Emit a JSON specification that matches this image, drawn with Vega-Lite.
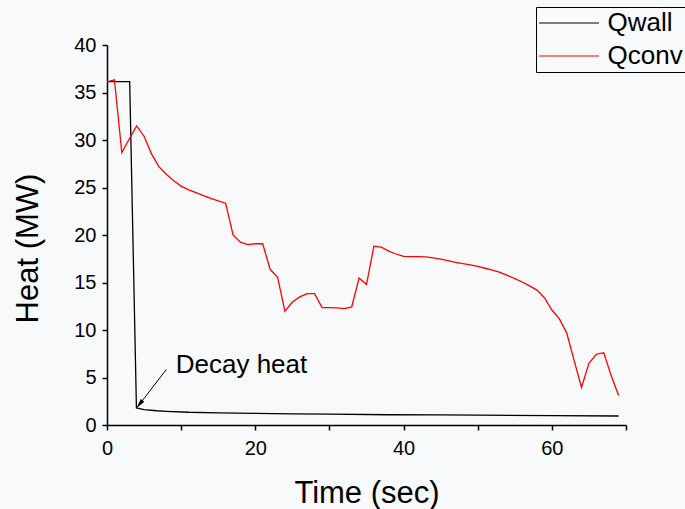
{
  "$schema": "https://vega.github.io/schema/vega-lite/v6.json",
  "width": 519,
  "height": 380,
  "autosize": {"type": "none"},
  "padding": {"left": 107, "top": 45, "right": 59, "bottom": 84},
  "background": "#f8f9fb",
  "config": {
    "view": {"stroke": null},
    "font": "Liberation Sans",
    "axis": {
      "grid": false,
      "domainColor": "#000000",
      "domainWidth": 1.5,
      "tickColor": "#000000",
      "tickWidth": 1.5,
      "tickSize": 5,
      "labelFont": "Liberation Sans",
      "labelFontSize": 20,
      "labelColor": "#000000",
      "labelOverlap": false,
      "labelFlush": false,
      "titleFont": "Liberation Sans",
      "titleFontSize": 31,
      "titleFontWeight": "normal",
      "titleColor": "#000000"
    },
    "legend": {
      "labelFont": "Liberation Sans",
      "labelFontSize": 26,
      "labelColor": "#000000"
    }
  },
  "datasets": {
    "lines": [
      {"t": 0, "v": 36.15, "series": "Qwall"},
      {"t": 3.06, "v": 36.15, "series": "Qwall"},
      {"t": 3.97, "v": 1.8, "series": "Qwall"},
      {"t": 5, "v": 1.62, "series": "Qwall"},
      {"t": 6.7, "v": 1.5, "series": "Qwall"},
      {"t": 8, "v": 1.44, "series": "Qwall"},
      {"t": 11, "v": 1.34, "series": "Qwall"},
      {"t": 15, "v": 1.28, "series": "Qwall"},
      {"t": 20, "v": 1.23, "series": "Qwall"},
      {"t": 25, "v": 1.18, "series": "Qwall"},
      {"t": 30, "v": 1.14, "series": "Qwall"},
      {"t": 38, "v": 1.08, "series": "Qwall"},
      {"t": 45, "v": 1.06, "series": "Qwall"},
      {"t": 50, "v": 1.04, "series": "Qwall"},
      {"t": 60, "v": 0.99, "series": "Qwall"},
      {"t": 69, "v": 0.95, "series": "Qwall"},
      {"t": 0, "v": 36.13, "series": "Qconv"},
      {"t": 1, "v": 36.34, "series": "Qconv"},
      {"t": 2, "v": 28.68, "series": "Qconv"},
      {"t": 3, "v": 30.1, "series": "Qconv"},
      {"t": 4, "v": 31.48, "series": "Qconv"},
      {"t": 5, "v": 30.4, "series": "Qconv"},
      {"t": 6, "v": 28.54, "series": "Qconv"},
      {"t": 7, "v": 27.2, "series": "Qconv"},
      {"t": 8, "v": 26.4, "series": "Qconv"},
      {"t": 9, "v": 25.7, "series": "Qconv"},
      {"t": 10, "v": 25.15, "series": "Qconv"},
      {"t": 11, "v": 24.75, "series": "Qconv"},
      {"t": 12, "v": 24.45, "series": "Qconv"},
      {"t": 13, "v": 24.15, "series": "Qconv"},
      {"t": 14, "v": 23.85, "series": "Qconv"},
      {"t": 15, "v": 23.6, "series": "Qconv"},
      {"t": 16, "v": 23.35, "series": "Qconv"},
      {"t": 17, "v": 20.0, "series": "Qconv"},
      {"t": 18, "v": 19.25, "series": "Qconv"},
      {"t": 19, "v": 18.98, "series": "Qconv"},
      {"t": 20, "v": 19.08, "series": "Qconv"},
      {"t": 21, "v": 19.08, "series": "Qconv"},
      {"t": 22, "v": 16.39, "series": "Qconv"},
      {"t": 23, "v": 15.58, "series": "Qconv"},
      {"t": 24, "v": 11.97, "series": "Qconv"},
      {"t": 25, "v": 12.95, "series": "Qconv"},
      {"t": 26, "v": 13.48, "series": "Qconv"},
      {"t": 27, "v": 13.83, "series": "Qconv"},
      {"t": 28, "v": 13.83, "series": "Qconv"},
      {"t": 29, "v": 12.36, "series": "Qconv"},
      {"t": 30, "v": 12.36, "series": "Qconv"},
      {"t": 31, "v": 12.32, "series": "Qconv"},
      {"t": 32, "v": 12.26, "series": "Qconv"},
      {"t": 33, "v": 12.43, "series": "Qconv"},
      {"t": 34, "v": 15.47, "series": "Qconv"},
      {"t": 35, "v": 14.78, "series": "Qconv"},
      {"t": 36, "v": 18.83, "series": "Qconv"},
      {"t": 37, "v": 18.73, "series": "Qconv"},
      {"t": 38, "v": 18.31, "series": "Qconv"},
      {"t": 39, "v": 18.0, "series": "Qconv"},
      {"t": 40, "v": 17.74, "series": "Qconv"},
      {"t": 41, "v": 17.72, "series": "Qconv"},
      {"t": 42, "v": 17.72, "series": "Qconv"},
      {"t": 43, "v": 17.7, "series": "Qconv"},
      {"t": 44, "v": 17.6, "series": "Qconv"},
      {"t": 45, "v": 17.45, "series": "Qconv"},
      {"t": 46, "v": 17.3, "series": "Qconv"},
      {"t": 47, "v": 17.12, "series": "Qconv"},
      {"t": 48, "v": 16.98, "series": "Qconv"},
      {"t": 49, "v": 16.85, "series": "Qconv"},
      {"t": 50, "v": 16.7, "series": "Qconv"},
      {"t": 51, "v": 16.5, "series": "Qconv"},
      {"t": 52, "v": 16.3, "series": "Qconv"},
      {"t": 53, "v": 16.06, "series": "Qconv"},
      {"t": 54, "v": 15.75, "series": "Qconv"},
      {"t": 55, "v": 15.4, "series": "Qconv"},
      {"t": 56, "v": 15.05, "series": "Qconv"},
      {"t": 57, "v": 14.65, "series": "Qconv"},
      {"t": 58, "v": 14.2, "series": "Qconv"},
      {"t": 59, "v": 13.4, "series": "Qconv"},
      {"t": 60, "v": 12.1, "series": "Qconv"},
      {"t": 61, "v": 11.2, "series": "Qconv"},
      {"t": 62, "v": 9.7, "series": "Qconv"},
      {"t": 63, "v": 6.8, "series": "Qconv"},
      {"t": 64, "v": 3.96, "series": "Qconv"},
      {"t": 65, "v": 6.5, "series": "Qconv"},
      {"t": 66, "v": 7.45, "series": "Qconv"},
      {"t": 67, "v": 7.6, "series": "Qconv"},
      {"t": 68, "v": 5.2, "series": "Qconv"},
      {"t": 69, "v": 3.1, "series": "Qconv"}
    ],
    "arrow": [
      {"t1": 8.01, "v1": 5.85, "t2": 4.3, "v2": 2.1}
    ],
    "head": [
      {"t": 4.38, "v": 2.17}
    ],
    "label": [
      {"t": 9.27, "v": 5.43, "text": "Decay heat"}
    ]
  },
  "layer": [
    {
      "data": {"name": "lines"},
      "mark": {"type": "line", "strokeWidth": 1.3, "interpolate": "linear"},
      "encoding": {
        "x": {
          "field": "t", "type": "quantitative",
          "scale": {"domain": [0, 70], "nice": false, "zero": false},
          "axis": {
            "title": "Time (sec)",
            "values": [0, 10, 20, 30, 40, 50, 60, 70],
            "labelExpr": "datum.value % 20 === 0 ? datum.label : ''",
            "labelPadding": 8,
            "titlePadding": 20
          }
        },
        "y": {
          "field": "v", "type": "quantitative",
          "scale": {"domain": [0, 40], "nice": false, "zero": false},
          "axis": {
            "title": "Heat (MW)",
            "values": [0, 2.5, 5, 7.5, 10, 12.5, 15, 17.5, 20, 22.5, 25, 27.5, 30, 32.5, 35, 37.5, 40],
            "labelExpr": "datum.value % 5 === 0 ? datum.label : ''",
            "labelPadding": 6,
            "titlePadding": 29,
            "titleY": 203
          }
        },
        "color": {
          "field": "series", "type": "nominal",
          "scale": {"domain": ["Qwall", "Qconv"], "range": ["#000000", "#ff0000"]},
          "legend": {
            "title": null,
            "orient": "none",
            "legendX": 429,
            "legendY": -38,
            "symbolType": "stroke",
            "symbolSize": 3600,
            "symbolStrokeWidth": 1.2,
            "clipHeight": 28,
            "labelOffset": 7.5,
            "padding": 2,
            "rowPadding": 5,
            "strokeColor": "#000000",
            "fillColor": "#f9fafc"
          }
        }
      }
    },
    {
      "data": {"name": "arrow"},
      "mark": {"type": "rule", "color": "#000000", "strokeWidth": 1},
      "encoding": {
        "x": {"field": "t1", "type": "quantitative"},
        "y": {"field": "v1", "type": "quantitative"},
        "x2": {"field": "t2"},
        "y2": {"field": "v2"}
      }
    },
    {
      "data": {"name": "head"},
      "mark": {"type": "point", "shape": "M0,-1L0.45,1L-0.45,1Z", "filled": true, "color": "#000000", "opacity": 1, "size": 100, "angle": 217.6},
      "encoding": {
        "x": {"field": "t", "type": "quantitative"},
        "y": {"field": "v", "type": "quantitative"}
      }
    },
    {
      "data": {"name": "label"},
      "mark": {"type": "text", "align": "left", "baseline": "alphabetic", "fontSize": 26, "font": "Liberation Sans", "color": "#000000"},
      "encoding": {
        "x": {"field": "t", "type": "quantitative"},
        "y": {"field": "v", "type": "quantitative"},
        "text": {"field": "text"}
      }
    }
  ]
}
